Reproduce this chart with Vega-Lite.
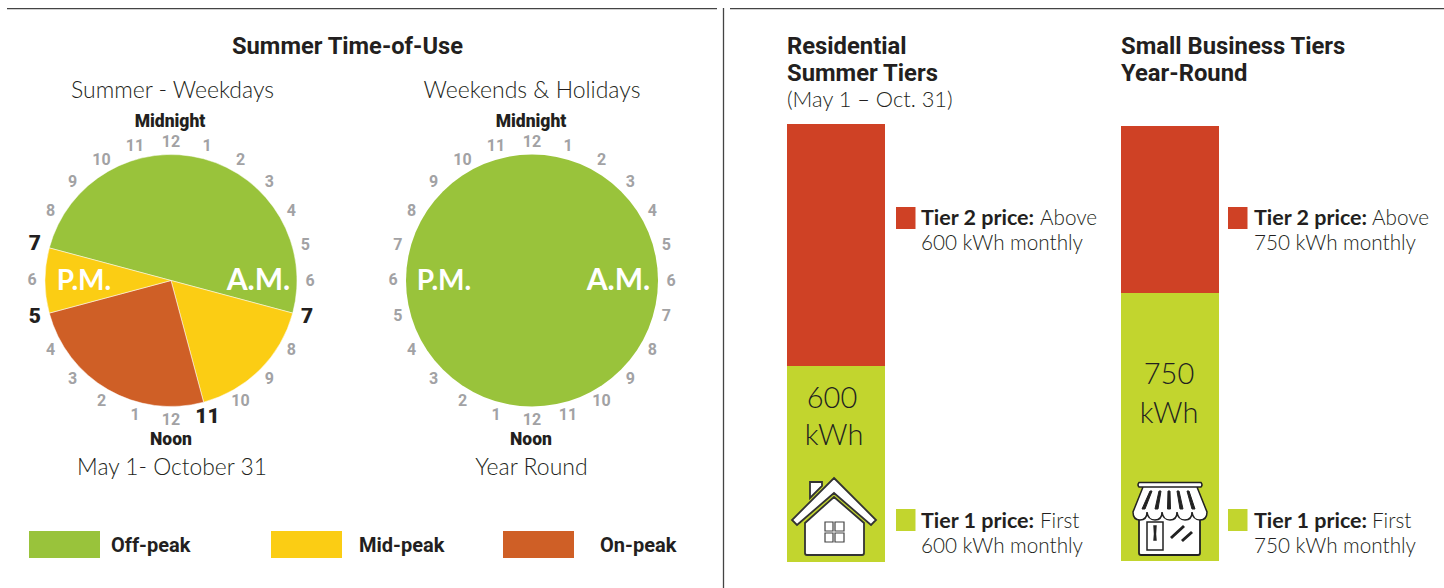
{
"$schema":"https://vega.github.io/schema/vega-lite/v6.json",
"width":1444,"height":588,"padding":0,"autosize":{"type":"none"},"background":"white",
"config":{"view":{"stroke":null},"axis":{"disable":true},"legend":{"disable":true},"text":{"baseline":"alphabetic","align":"left","font":"Lato","color":"#231f20"}},
"resolve":{"scale":{"x":"independent","y":"independent","theta":"independent","color":"independent"}},
"datasets":{
"hoursAll":[{"hour":0,"label":"12"},{"hour":1,"label":"1"},{"hour":2,"label":"2"},{"hour":3,"label":"3"},{"hour":4,"label":"4"},{"hour":5,"label":"5"},{"hour":6,"label":"6"},{"hour":7,"label":"7"},{"hour":8,"label":"8"},{"hour":9,"label":"9"},{"hour":10,"label":"10"},{"hour":11,"label":"11"},{"hour":12,"label":"12"},{"hour":13,"label":"1"},{"hour":14,"label":"2"},{"hour":15,"label":"3"},{"hour":16,"label":"4"},{"hour":17,"label":"5"},{"hour":18,"label":"6"},{"hour":19,"label":"7"},{"hour":20,"label":"8"},{"hour":21,"label":"9"},{"hour":22,"label":"10"},{"hour":23,"label":"11"}],
"hoursPlain":[{"hour":0,"label":"12"},{"hour":1,"label":"1"},{"hour":2,"label":"2"},{"hour":3,"label":"3"},{"hour":4,"label":"4"},{"hour":5,"label":"5"},{"hour":6,"label":"6"},{"hour":8,"label":"8"},{"hour":9,"label":"9"},{"hour":10,"label":"10"},{"hour":12,"label":"12"},{"hour":13,"label":"1"},{"hour":14,"label":"2"},{"hour":15,"label":"3"},{"hour":16,"label":"4"},{"hour":18,"label":"6"},{"hour":20,"label":"8"},{"hour":21,"label":"9"},{"hour":22,"label":"10"},{"hour":23,"label":"11"}],
"hoursBold":[{"hour":7,"label":"7"},{"hour":11,"label":"11"},{"hour":17,"label":"5"},{"hour":19,"label":"7"}],
"weekday":[{"period":"Off-peak","start":19,"end":31},{"period":"Mid-peak","start":7,"end":11},{"period":"On-peak","start":11,"end":17},{"period":"Mid-peak","start":17,"end":19}],
"weekend":[{"period":"Off-peak","start":0,"end":24}],
"residential":[{"tier":"Tier 1","start":0,"end":600},{"tier":"Tier 2","start":600,"end":1341}],
"business":[{"tier":"Tier 1","start":0,"end":750},{"tier":"Tier 2","start":750,"end":1217}]
},
"layer":[
{"data":{"values":[{"rule":"left"}]},"mark":{"type":"rule","color":"#444","strokeWidth":1.3},"encoding":{"x":{"datum":7,"scale":{"domain":[0,1444],"range":[0,1444]}},"x2":{"datum":717},"y":{"datum":8.7,"scale":{"domain":[0,588],"range":[0,588]}}}},
{"data":{"values":[{"rule":"right"}]},"mark":{"type":"rule","color":"#444","strokeWidth":1.3},"encoding":{"x":{"datum":730,"scale":{"domain":[0,1444],"range":[0,1444]}},"x2":{"datum":1444},"y":{"datum":8.7,"scale":{"domain":[0,588],"range":[0,588]}}}},
{"data":{"values":[{"rule":"divider"}]},"mark":{"type":"rule","color":"#444","strokeWidth":1.3},"encoding":{"x":{"datum":723.5,"scale":{"domain":[0,1444],"range":[0,1444]}},"y":{"datum":8,"scale":{"domain":[0,588],"range":[0,588]}},"y2":{"datum":588}}},

{"data":{"name":"weekday"},"mark":{"type":"arc","outerRadius":126,"stroke":"white","strokeWidth":0.5},"encoding":{"x":{"datum":171,"scale":{"domain":[0,1444],"range":[0,1444]}},"y":{"datum":280.5,"scale":{"domain":[0,588],"range":[0,588]}},"theta":{"field":"start","type":"quantitative","stack":null,"scale":{"domain":[0,24],"range":[0,6.28319]}},"theta2":{"field":"end"},"color":{"field":"period","scale":{"domain":["Off-peak","Mid-peak","On-peak"],"range":["#99c33b","#fbcd14","#cf5f26"]}}}},
{"data":{"name":"weekend"},"mark":{"type":"arc","outerRadius":126},"encoding":{"x":{"datum":532,"scale":{"domain":[0,1444],"range":[0,1444]}},"y":{"datum":280.5,"scale":{"domain":[0,588],"range":[0,588]}},"theta":{"field":"start","type":"quantitative","stack":null,"scale":{"domain":[0,24],"range":[0,6.28319]}},"theta2":{"field":"end"},"color":{"field":"period","scale":{"domain":["Off-peak","Mid-peak","On-peak"],"range":["#99c33b","#fbcd14","#cf5f26"]}}}},

{"data":{"name":"hoursPlain"},"mark":{"type":"text","font":"Roboto","fontWeight":"bold","fontSize":16,"color":"#a2a2a4","align":"center","baseline":"middle"},"encoding":{"x":{"datum":171,"scale":{"domain":[0,1444],"range":[0,1444]}},"y":{"datum":280.5,"scale":{"domain":[0,588],"range":[0,588]}},"theta":{"field":"hour","type":"quantitative","stack":null,"scale":{"domain":[0,24],"range":[0,6.28319]}},"radius":{"value":139},"text":{"field":"label"}}},
{"data":{"name":"hoursBold"},"mark":{"type":"text","font":"Roboto","fontWeight":900,"fontSize":21,"color":"#231f20","align":"center","baseline":"middle"},"encoding":{"x":{"datum":171,"scale":{"domain":[0,1444],"range":[0,1444]}},"y":{"datum":280.5,"scale":{"domain":[0,588],"range":[0,588]}},"theta":{"field":"hour","type":"quantitative","stack":null,"scale":{"domain":[0,24],"range":[0,6.28319]}},"radius":{"value":141},"text":{"field":"label"}}},
{"data":{"name":"hoursAll"},"mark":{"type":"text","font":"Roboto","fontWeight":"bold","fontSize":16,"color":"#a2a2a4","align":"center","baseline":"middle"},"encoding":{"x":{"datum":532,"scale":{"domain":[0,1444],"range":[0,1444]}},"y":{"datum":280.5,"scale":{"domain":[0,588],"range":[0,588]}},"theta":{"field":"hour","type":"quantitative","stack":null,"scale":{"domain":[0,24],"range":[0,6.28319]}},"radius":{"value":139},"text":{"field":"label"}}},

{"data":{"values":[{"label":"Summer Time-of-Use"}]},"mark":{"type":"text","font":"Roboto","fontWeight":"bold","fontSize":23.7,"align":"center"},"encoding":{"x":{"datum":347.5,"scale":{"domain":[0,1444],"range":[0,1444]}},"y":{"datum":54,"scale":{"domain":[0,588],"range":[0,588]}},"text":{"field":"label"}}},
{"data":{"values":[{"label":"Summer - Weekdays"}]},"mark":{"type":"text","fontSize":23,"fontWeight":300,"align":"center"},"encoding":{"x":{"datum":172.5,"scale":{"domain":[0,1444],"range":[0,1444]}},"y":{"datum":98,"scale":{"domain":[0,588],"range":[0,588]}},"text":{"field":"label"}}},
{"data":{"values":[{"label":"Weekends & Holidays"}]},"mark":{"type":"text","fontSize":23,"fontWeight":300,"align":"center"},"encoding":{"x":{"datum":532,"scale":{"domain":[0,1444],"range":[0,1444]}},"y":{"datum":98,"scale":{"domain":[0,588],"range":[0,588]}},"text":{"field":"label"}}},
{"data":{"values":[{"label":"Midnight"}]},"mark":{"type":"text","font":"Roboto","fontSize":17.5,"fontWeight":900,"align":"center"},"encoding":{"x":{"datum":170,"scale":{"domain":[0,1444],"range":[0,1444]}},"y":{"datum":127,"scale":{"domain":[0,588],"range":[0,588]}},"text":{"field":"label"}}},
{"data":{"values":[{"label":"Midnight"}]},"mark":{"type":"text","font":"Roboto","fontSize":17.5,"fontWeight":900,"align":"center"},"encoding":{"x":{"datum":531,"scale":{"domain":[0,1444],"range":[0,1444]}},"y":{"datum":127,"scale":{"domain":[0,588],"range":[0,588]}},"text":{"field":"label"}}},
{"data":{"values":[{"label":"Noon"}]},"mark":{"type":"text","font":"Roboto","fontSize":17.5,"fontWeight":900,"align":"center"},"encoding":{"x":{"datum":171,"scale":{"domain":[0,1444],"range":[0,1444]}},"y":{"datum":445,"scale":{"domain":[0,588],"range":[0,588]}},"text":{"field":"label"}}},
{"data":{"values":[{"label":"Noon"}]},"mark":{"type":"text","font":"Roboto","fontSize":17.5,"fontWeight":900,"align":"center"},"encoding":{"x":{"datum":531,"scale":{"domain":[0,1444],"range":[0,1444]}},"y":{"datum":445,"scale":{"domain":[0,588],"range":[0,588]}},"text":{"field":"label"}}},
{"data":{"values":[{"label":"May 1- October 31"}]},"mark":{"type":"text","fontSize":22.8,"fontWeight":300,"align":"center"},"encoding":{"x":{"datum":172,"scale":{"domain":[0,1444],"range":[0,1444]}},"y":{"datum":475,"scale":{"domain":[0,588],"range":[0,588]}},"text":{"field":"label"}}},
{"data":{"values":[{"label":"Year Round"}]},"mark":{"type":"text","fontSize":23,"fontWeight":300,"align":"center"},"encoding":{"x":{"datum":531.5,"scale":{"domain":[0,1444],"range":[0,1444]}},"y":{"datum":475,"scale":{"domain":[0,588],"range":[0,588]}},"text":{"field":"label"}}},

{"data":{"values":[{"label":"P.M."}]},"mark":{"type":"text","fontSize":28,"fontWeight":"bold","color":"white","align":"center"},"encoding":{"x":{"datum":84,"scale":{"domain":[0,1444],"range":[0,1444]}},"y":{"datum":290,"scale":{"domain":[0,588],"range":[0,588]}},"text":{"field":"label"}}},
{"data":{"values":[{"label":"A.M."}]},"mark":{"type":"text","fontSize":30,"fontWeight":"bold","color":"white","align":"center"},"encoding":{"x":{"datum":258.5,"scale":{"domain":[0,1444],"range":[0,1444]}},"y":{"datum":290,"scale":{"domain":[0,588],"range":[0,588]}},"text":{"field":"label"}}},
{"data":{"values":[{"label":"P.M."}]},"mark":{"type":"text","fontSize":28,"fontWeight":"bold","color":"white","align":"center"},"encoding":{"x":{"datum":444,"scale":{"domain":[0,1444],"range":[0,1444]}},"y":{"datum":290,"scale":{"domain":[0,588],"range":[0,588]}},"text":{"field":"label"}}},
{"data":{"values":[{"label":"A.M."}]},"mark":{"type":"text","fontSize":30,"fontWeight":"bold","color":"white","align":"center"},"encoding":{"x":{"datum":618.5,"scale":{"domain":[0,1444],"range":[0,1444]}},"y":{"datum":290,"scale":{"domain":[0,588],"range":[0,588]}},"text":{"field":"label"}}},

{"data":{"values":[{"period":"Off-peak"}]},"mark":{"type":"rect"},"encoding":{"x":{"datum":29,"scale":{"domain":[0,1444],"range":[0,1444]}},"x2":{"datum":100},"y":{"datum":531,"scale":{"domain":[0,588],"range":[0,588]}},"y2":{"datum":558},"color":{"field":"period","scale":{"domain":["Off-peak","Mid-peak","On-peak"],"range":["#99c33b","#fbcd14","#cf5f26"]}}}},
{"data":{"values":[{"period":"Mid-peak"}]},"mark":{"type":"rect"},"encoding":{"x":{"datum":271,"scale":{"domain":[0,1444],"range":[0,1444]}},"x2":{"datum":342},"y":{"datum":531,"scale":{"domain":[0,588],"range":[0,588]}},"y2":{"datum":558},"color":{"field":"period","scale":{"domain":["Off-peak","Mid-peak","On-peak"],"range":["#99c33b","#fbcd14","#cf5f26"]}}}},
{"data":{"values":[{"period":"On-peak"}]},"mark":{"type":"rect"},"encoding":{"x":{"datum":503,"scale":{"domain":[0,1444],"range":[0,1444]}},"x2":{"datum":574},"y":{"datum":531,"scale":{"domain":[0,588],"range":[0,588]}},"y2":{"datum":558},"color":{"field":"period","scale":{"domain":["Off-peak","Mid-peak","On-peak"],"range":["#99c33b","#fbcd14","#cf5f26"]}}}},
{"data":{"values":[{"label":"Off-peak"}]},"mark":{"type":"text","font":"Roboto","fontWeight":"bold","fontSize":20},"encoding":{"x":{"datum":111,"scale":{"domain":[0,1444],"range":[0,1444]}},"y":{"datum":552,"scale":{"domain":[0,588],"range":[0,588]}},"text":{"field":"label"}}},
{"data":{"values":[{"label":"Mid-peak"}]},"mark":{"type":"text","font":"Roboto","fontWeight":"bold","fontSize":20},"encoding":{"x":{"datum":359,"scale":{"domain":[0,1444],"range":[0,1444]}},"y":{"datum":552,"scale":{"domain":[0,588],"range":[0,588]}},"text":{"field":"label"}}},
{"data":{"values":[{"label":"On-peak"}]},"mark":{"type":"text","font":"Roboto","fontWeight":"bold","fontSize":20},"encoding":{"x":{"datum":600,"scale":{"domain":[0,1444],"range":[0,1444]}},"y":{"datum":552,"scale":{"domain":[0,588],"range":[0,588]}},"text":{"field":"label"}}},

{"data":{"name":"residential"},"mark":{"type":"rect"},"encoding":{"x":{"datum":787,"scale":{"domain":[0,1444],"range":[0,1444]}},"x2":{"datum":885},"y":{"field":"start","type":"quantitative","scale":{"domain":[0,1341],"range":[562,124]}},"y2":{"field":"end"},"color":{"field":"tier","scale":{"domain":["Tier 1","Tier 2"],"range":["#c2d52e","#cf4125"]}}}},
{"data":{"name":"business"},"mark":{"type":"rect"},"encoding":{"x":{"datum":1121,"scale":{"domain":[0,1444],"range":[0,1444]}},"x2":{"datum":1219},"y":{"field":"start","type":"quantitative","scale":{"domain":[0,1217],"range":[561,126]}},"y2":{"field":"end"},"color":{"field":"tier","scale":{"domain":["Tier 1","Tier 2"],"range":["#c2d52e","#cf4125"]}}}},

{"data":{"values":[{"label":"Residential"}]},"mark":{"type":"text","font":"Roboto","fontWeight":"bold","fontSize":23.8},"encoding":{"x":{"datum":787,"scale":{"domain":[0,1444],"range":[0,1444]}},"y":{"datum":54,"scale":{"domain":[0,588],"range":[0,588]}},"text":{"field":"label"}}},
{"data":{"values":[{"label":"Summer Tiers"}]},"mark":{"type":"text","font":"Roboto","fontWeight":"bold","fontSize":23.8},"encoding":{"x":{"datum":787,"scale":{"domain":[0,1444],"range":[0,1444]}},"y":{"datum":81,"scale":{"domain":[0,588],"range":[0,588]}},"text":{"field":"label"}}},
{"data":{"values":[{"label":"(May 1 – Oct. 31)"}]},"mark":{"type":"text","fontSize":21.8,"fontWeight":300},"encoding":{"x":{"datum":787,"scale":{"domain":[0,1444],"range":[0,1444]}},"y":{"datum":107,"scale":{"domain":[0,588],"range":[0,588]}},"text":{"field":"label"}}},
{"data":{"values":[{"label":"Small Business Tiers"}]},"mark":{"type":"text","font":"Roboto","fontWeight":"bold","fontSize":23.8},"encoding":{"x":{"datum":1121,"scale":{"domain":[0,1444],"range":[0,1444]}},"y":{"datum":54,"scale":{"domain":[0,588],"range":[0,588]}},"text":{"field":"label"}}},
{"data":{"values":[{"label":"Year-Round"}]},"mark":{"type":"text","font":"Roboto","fontWeight":"bold","fontSize":23.8},"encoding":{"x":{"datum":1121,"scale":{"domain":[0,1444],"range":[0,1444]}},"y":{"datum":81,"scale":{"domain":[0,588],"range":[0,588]}},"text":{"field":"label"}}},

{"data":{"values":[{"label":"600"}]},"mark":{"type":"text","fontSize":29,"fontWeight":300,"align":"center"},"encoding":{"x":{"datum":832,"scale":{"domain":[0,1444],"range":[0,1444]}},"y":{"datum":408,"scale":{"domain":[0,588],"range":[0,588]}},"text":{"field":"label"}}},
{"data":{"values":[{"label":"kWh"}]},"mark":{"type":"text","fontSize":29,"fontWeight":300,"align":"center"},"encoding":{"x":{"datum":834,"scale":{"domain":[0,1444],"range":[0,1444]}},"y":{"datum":445,"scale":{"domain":[0,588],"range":[0,588]}},"text":{"field":"label"}}},
{"data":{"values":[{"label":"750"}]},"mark":{"type":"text","fontSize":29,"fontWeight":300,"align":"center"},"encoding":{"x":{"datum":1169,"scale":{"domain":[0,1444],"range":[0,1444]}},"y":{"datum":384,"scale":{"domain":[0,588],"range":[0,588]}},"text":{"field":"label"}}},
{"data":{"values":[{"label":"kWh"}]},"mark":{"type":"text","fontSize":29,"fontWeight":300,"align":"center"},"encoding":{"x":{"datum":1169,"scale":{"domain":[0,1444],"range":[0,1444]}},"y":{"datum":423,"scale":{"domain":[0,588],"range":[0,588]}},"text":{"field":"label"}}},

{"data":{"values":[{"tier":"Tier 2"}]},"mark":{"type":"rect"},"encoding":{"x":{"datum":896,"scale":{"domain":[0,1444],"range":[0,1444]}},"x2":{"datum":915.5},"y":{"datum":207,"scale":{"domain":[0,588],"range":[0,588]}},"y2":{"datum":229},"color":{"field":"tier","scale":{"domain":["Tier 1","Tier 2"],"range":["#c2d52e","#cf4125"]}}}},
{"data":{"values":[{"tier":"Tier 1"}]},"mark":{"type":"rect"},"encoding":{"x":{"datum":896,"scale":{"domain":[0,1444],"range":[0,1444]}},"x2":{"datum":915.5},"y":{"datum":509,"scale":{"domain":[0,588],"range":[0,588]}},"y2":{"datum":531},"color":{"field":"tier","scale":{"domain":["Tier 1","Tier 2"],"range":["#c2d52e","#cf4125"]}}}},
{"data":{"values":[{"tier":"Tier 2"}]},"mark":{"type":"rect"},"encoding":{"x":{"datum":1228,"scale":{"domain":[0,1444],"range":[0,1444]}},"x2":{"datum":1247.5},"y":{"datum":207,"scale":{"domain":[0,588],"range":[0,588]}},"y2":{"datum":229},"color":{"field":"tier","scale":{"domain":["Tier 1","Tier 2"],"range":["#c2d52e","#cf4125"]}}}},
{"data":{"values":[{"tier":"Tier 1"}]},"mark":{"type":"rect"},"encoding":{"x":{"datum":1228,"scale":{"domain":[0,1444],"range":[0,1444]}},"x2":{"datum":1247.5},"y":{"datum":509,"scale":{"domain":[0,588],"range":[0,588]}},"y2":{"datum":531},"color":{"field":"tier","scale":{"domain":["Tier 1","Tier 2"],"range":["#c2d52e","#cf4125"]}}}},

{"data":{"values":[{"label":"Tier 2 price:"}]},"mark":{"type":"text","fontWeight":"bold","fontSize":21.5},"encoding":{"x":{"datum":921,"scale":{"domain":[0,1444],"range":[0,1444]}},"y":{"datum":225,"scale":{"domain":[0,588],"range":[0,588]}},"text":{"field":"label"}}},
{"data":{"values":[{"label":"Above"}]},"mark":{"type":"text","fontSize":20.7,"fontWeight":300},"encoding":{"x":{"datum":1040,"scale":{"domain":[0,1444],"range":[0,1444]}},"y":{"datum":225,"scale":{"domain":[0,588],"range":[0,588]}},"text":{"field":"label"}}},
{"data":{"values":[{"label":"600 kWh monthly"}]},"mark":{"type":"text","fontSize":20.7,"fontWeight":300},"encoding":{"x":{"datum":921,"scale":{"domain":[0,1444],"range":[0,1444]}},"y":{"datum":250,"scale":{"domain":[0,588],"range":[0,588]}},"text":{"field":"label"}}},
{"data":{"values":[{"label":"Tier 1 price:"}]},"mark":{"type":"text","fontWeight":"bold","fontSize":21.5},"encoding":{"x":{"datum":921,"scale":{"domain":[0,1444],"range":[0,1444]}},"y":{"datum":528,"scale":{"domain":[0,588],"range":[0,588]}},"text":{"field":"label"}}},
{"data":{"values":[{"label":"First"}]},"mark":{"type":"text","fontSize":20.7,"fontWeight":300},"encoding":{"x":{"datum":1040,"scale":{"domain":[0,1444],"range":[0,1444]}},"y":{"datum":528,"scale":{"domain":[0,588],"range":[0,588]}},"text":{"field":"label"}}},
{"data":{"values":[{"label":"600 kWh monthly"}]},"mark":{"type":"text","fontSize":20.7,"fontWeight":300},"encoding":{"x":{"datum":921,"scale":{"domain":[0,1444],"range":[0,1444]}},"y":{"datum":553,"scale":{"domain":[0,588],"range":[0,588]}},"text":{"field":"label"}}},
{"data":{"values":[{"label":"Tier 2 price:"}]},"mark":{"type":"text","fontWeight":"bold","fontSize":21.5},"encoding":{"x":{"datum":1254,"scale":{"domain":[0,1444],"range":[0,1444]}},"y":{"datum":225,"scale":{"domain":[0,588],"range":[0,588]}},"text":{"field":"label"}}},
{"data":{"values":[{"label":"Above"}]},"mark":{"type":"text","fontSize":20.7,"fontWeight":300},"encoding":{"x":{"datum":1372,"scale":{"domain":[0,1444],"range":[0,1444]}},"y":{"datum":225,"scale":{"domain":[0,588],"range":[0,588]}},"text":{"field":"label"}}},
{"data":{"values":[{"label":"750 kWh monthly"}]},"mark":{"type":"text","fontSize":20.7,"fontWeight":300},"encoding":{"x":{"datum":1254,"scale":{"domain":[0,1444],"range":[0,1444]}},"y":{"datum":250,"scale":{"domain":[0,588],"range":[0,588]}},"text":{"field":"label"}}},
{"data":{"values":[{"label":"Tier 1 price:"}]},"mark":{"type":"text","fontWeight":"bold","fontSize":21.5},"encoding":{"x":{"datum":1254,"scale":{"domain":[0,1444],"range":[0,1444]}},"y":{"datum":528,"scale":{"domain":[0,588],"range":[0,588]}},"text":{"field":"label"}}},
{"data":{"values":[{"label":"First"}]},"mark":{"type":"text","fontSize":20.7,"fontWeight":300},"encoding":{"x":{"datum":1372,"scale":{"domain":[0,1444],"range":[0,1444]}},"y":{"datum":528,"scale":{"domain":[0,588],"range":[0,588]}},"text":{"field":"label"}}},
{"data":{"values":[{"label":"750 kWh monthly"}]},"mark":{"type":"text","fontSize":20.7,"fontWeight":300},"encoding":{"x":{"datum":1254,"scale":{"domain":[0,1444],"range":[0,1444]}},"y":{"datum":553,"scale":{"domain":[0,588],"range":[0,588]}},"text":{"field":"label"}}},

{"data":{"values":[{"icon":"house"}]},"mark":{"type":"point","size":4,"opacity":1,"filled":true,"color":"white","stroke":"#333","strokeWidth":1.8,"shape":"M-24,-38 L-12,-38 L-12,-34 L-24,-22 Z M0,-42 L42,0 L37,5 L0,-27 L-37,5 L-42,0 Z M0,-23 L30,3 L30,33 Q30,35 28,35 L-27,35 Q-29,35 -29,33 L-29,3 Z"},"encoding":{"x":{"datum":834,"scale":{"domain":[0,1444],"range":[0,1444]}},"y":{"datum":520,"scale":{"domain":[0,588],"range":[0,588]}}}},
{"data":{"values":[{"icon":"house window"}]},"mark":{"type":"point","size":4,"opacity":1,"filled":true,"color":"white","stroke":"#444","strokeWidth":1.2,"shape":"M-9,2 L-1,2 L-1,11 L-9,11 Z M1,2 L10,2 L10,11 L1,11 Z M-9,13 L-1,13 L-1,22 L-9,22 Z M1,13 L10,13 L10,22 L1,22 Z"},"encoding":{"x":{"datum":834,"scale":{"domain":[0,1444],"range":[0,1444]}},"y":{"datum":520,"scale":{"domain":[0,588],"range":[0,588]}}}},
{"data":{"values":[{"icon":"store body"}]},"mark":{"type":"point","size":4,"opacity":1,"filled":true,"color":"white","stroke":"#222","strokeWidth":1.8,"shape":"M-30,-8 L31,-8 L31,33 Q31,35 29,35 L-28,35 Q-30,35 -30,33 Z"},"encoding":{"x":{"datum":1169,"scale":{"domain":[0,1444],"range":[0,1444]}},"y":{"datum":520,"scale":{"domain":[0,588],"range":[0,588]}}}},
{"data":{"values":[{"icon":"store awning"}]},"mark":{"type":"point","size":4,"opacity":1,"filled":true,"color":"white","stroke":"#222","strokeWidth":1.5,"shape":"M-26,-33 L28,-33 L38,-8 Q38,0 31,0 Q24,0 23,-8 Q23,0 16,0 Q9,0 8,-8 Q8,0 1,0 Q-6,0 -7,-8 Q-7,0 -14,0 Q-21,0 -22,-8 Q-22,0 -29,0 Q-36,0 -36,-8 Z M-30,-37.5 L32,-37.5 Q34,-35 32,-33 L-30,-33 Q-32,-35 -30,-37.5 Z"},"encoding":{"x":{"datum":1169,"scale":{"domain":[0,1444],"range":[0,1444]}},"y":{"datum":520,"scale":{"domain":[0,588],"range":[0,588]}}}},
{"data":{"values":[{"icon":"store stripes"}]},"mark":{"type":"point","size":4,"opacity":1,"filled":true,"color":"#222","stroke":"#222","strokeWidth":1,"shape":"M-19,-29 L-17,-29 L-24,-11 L-27,-11 Z M-10,-29 L-8,-29 L-11,-11 L-14,-11 Z M-1,-29 L1,-29 L1.5,-11 L-1.5,-11 Z M8,-29 L10,-29 L14,-11 L11,-11 Z M18,-29 L20,-29 L26,-11 L23,-11 Z"},"encoding":{"x":{"datum":1169,"scale":{"domain":[0,1444],"range":[0,1444]}},"y":{"datum":520,"scale":{"domain":[0,588],"range":[0,588]}}}},
{"data":{"values":[{"icon":"store door"}]},"mark":{"type":"point","size":4,"opacity":1,"filled":true,"color":"white","stroke":"#222","strokeWidth":1.5,"shape":"M-22,2 L-6,2 L-6,30 L-22,30 Z"},"encoding":{"x":{"datum":1169,"scale":{"domain":[0,1444],"range":[0,1444]}},"y":{"datum":520,"scale":{"domain":[0,588],"range":[0,588]}}}},
{"data":{"values":[{"icon":"store details"}]},"mark":{"type":"point","size":4,"opacity":1,"filled":true,"color":"#222","stroke":"#222","strokeWidth":1.4,"shape":"M-15,6 L-13,6 L-13.5,14 L-13,20 L-15,20 L-14.5,14 Z M2,17 L14,6 L15,7 L3,18 Z M13,20 L22,12 L23,13 L14,21 Z"},"encoding":{"x":{"datum":1169,"scale":{"domain":[0,1444],"range":[0,1444]}},"y":{"datum":520,"scale":{"domain":[0,588],"range":[0,588]}}}}
]
}
